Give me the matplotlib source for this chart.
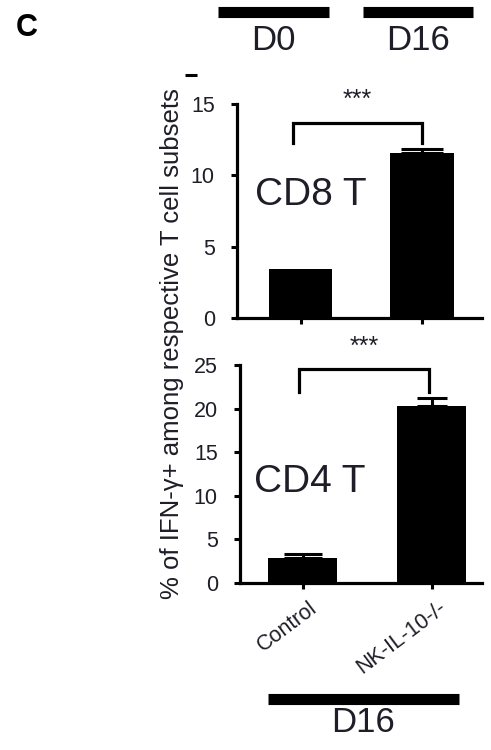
#!/usr/bin/env python3

import matplotlib
matplotlib.use("Agg")
import matplotlib.pyplot as plt
from matplotlib import font_manager
from matplotlib.lines import Line2D
from matplotlib.transforms import ScaledTranslation

groups = ["Control", "NK-IL-10-/-"]
cd8_vals = [3.4, 11.6]
cd8_err = [0.0, 0.25]
cd4_vals = [2.87, 20.3]
cd4_err = [0.4, 0.9]
cd8_ticks = [0, 5, 10, 15]
cd4_ticks = [0, 5, 10, 15, 20, 25]

names = {f.name for f in font_manager.fontManager.ttflist}
narrow = "Liberation Sans Narrow" if "Liberation Sans Narrow" in names else "Liberation Sans"
regular = "Liberation Sans"
ink = "#1e1e28"


def panel(ax, vals, errs, ticks, xlim, width, caps, bracket, stars_y, label, label_xy):
    x = list(range(len(vals)))
    ax.bar(x, vals, width=width, color="black", edgecolor="none", zorder=2)
    for xi, v, e, c in zip(x, vals, errs, caps):
        if e > 0:
            ax.errorbar(xi, v, yerr=[[0], [e]], color="black", elinewidth=2.2,
                        capsize=c, capthick=2.2, fmt="none", zorder=3)
    ax.set_xlim(*xlim)
    ax.set_ylim(0, ticks[-1])
    ax.set_yticks(ticks)
    ax.set_xticks(x)
    for s in ["top", "right"]:
        ax.spines[s].set_visible(False)
    for s in ["left", "bottom"]:
        ax.spines[s].set_linewidth(2.3)
    ax.tick_params(axis="both", direction="out", length=4, width=2.2, colors="black")
    ax.tick_params(axis="y", pad=12, labelsize=15.5, labelcolor=ink)
    for t in ax.get_yticklabels():
        t.set_family(narrow)
    # significance bracket
    bx0, bx1, low, high = bracket
    ax.plot([bx0, bx0, bx1, bx1], [low, high, high, low], color="black",
            lw=2.3, clip_on=False, solid_joinstyle="miter")
    ax.text((bx0 + bx1) / 2, stars_y, "***", ha="center", va="center",
            fontsize=18, color=ink, family=regular, clip_on=False)
    ax.text(label_xy[0], label_xy[1], label, ha="center", va="center",
            fontsize=28, color=ink, family=regular)


def main():
    fig = plt.figure(figsize=(4.91, 7.5), dpi=100)

    ax1 = fig.add_axes([237 / 491, 1 - 318 / 750, 245 / 491, 214 / 750])
    panel(ax1, cd8_vals, cd8_err, cd8_ticks, (-0.523, 1.494), 0.52, [15, 15],
          (-0.06, 1.0, 12.25, 13.7), 15.3, "CD8 T", (0.086, 8.6))
    ax1.set_xticklabels([])

    ax2 = fig.add_axes([240 / 491, 1 - 583 / 750, 242 / 491, 218 / 750])
    panel(ax2, cd4_vals, cd4_err, cd4_ticks, (-0.484, 1.39), 0.535, [13.5, 11],
          (-0.03, 0.98, 21.9, 24.5), 27.1, "CD4 T", (0.06, 11.6))
    ax2.set_xticklabels(groups, rotation=37, ha="right", rotation_mode="anchor",
                        fontsize=15.5, family=regular, color=ink)
    for t in ax2.get_xticklabels():
        t.set_transform(t.get_transform() + ScaledTranslation(0.06, -0.04, fig.dpi_scale_trans))

    fig.text(172 / 491, 1 - 344 / 750, "% of IFN-\u03b3+ among respective T cell subsets",
             rotation=90, ha="center", va="center", fontsize=18.5, family=regular, color=ink)

    fig.text(27 / 491, 1 - 28 / 750, "C", ha="center", va="center", fontsize=22,
             fontweight="bold", family=regular, color="black")

    # group bars
    for x0, x1, y, txt, ty, fam, fs in [(218, 329, 11.5, "D0", 40, narrow, 25),
                                        (363, 473, 11.5, "D16", 40, narrow, 25),
                                        (268, 459, 698.5, "D16", 723, regular, 25)]:
        fig.add_artist(Line2D([x0 / 491, x1 / 491], [1 - y / 750, 1 - y / 750],
                              color="black", lw=8, solid_capstyle="butt"))
        fig.text((x0 + x1) / 2 / 491, 1 - ty / 750, txt, ha="center", va="center",
                 fontsize=fs, family=fam, color=ink)
    fig.add_artist(Line2D([185 / 491, 197 / 491], [1 - 75 / 750, 1 - 75 / 750],
                          color="black", lw=2.2, solid_capstyle="butt"))

    fig.savefig("out.png", dpi=100)


if __name__ == "__main__":
    main()
